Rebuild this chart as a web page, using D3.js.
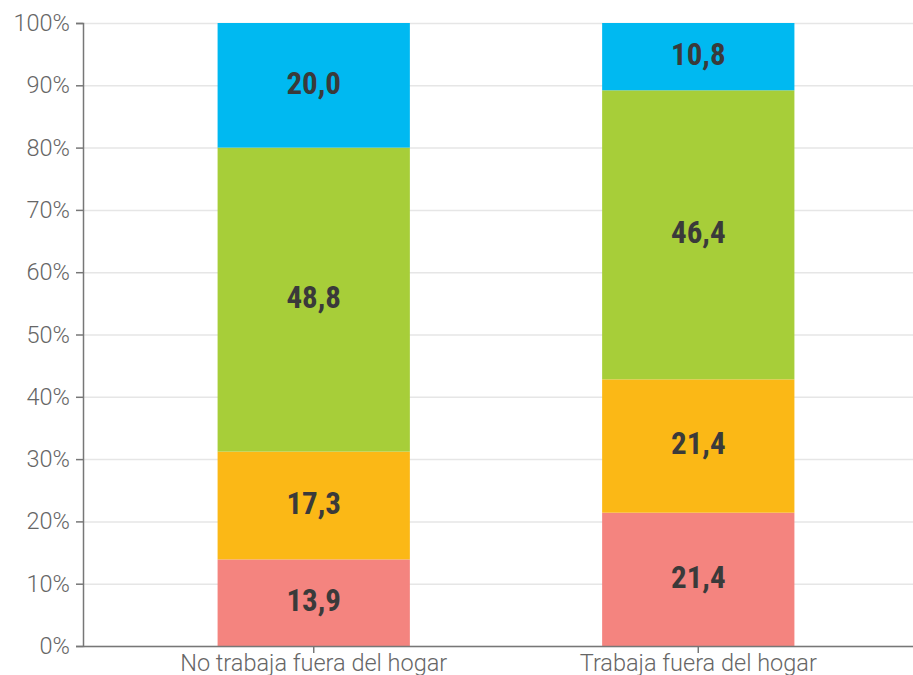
<!DOCTYPE html>
<html>
<head>
<meta charset="utf-8">
<script src="https://cdn.jsdelivr.net/npm/d3@7"></script>
<style>
  body { margin: 0; background: #fff; }
  svg { display: block; }
</style>
</head>
<body>
<svg id="chart" width="913" height="675"></svg>
<script>
// categories and series (percentages)
const categories = ['No trabaja fuera del hogar', 'Trabaja fuera del hogar'];
const seriesNames = ['s1', 's2', 's3', 's4'];
const seriesColors = ['#f4847f', '#fbb816', '#a7ce39', '#00b9f1'];
const s1 = [13.9, 21.4];
const s2 = [17.3, 21.4];
const s3 = [48.8, 46.4];
const s4 = [20.0, 10.8];
const yTicks = [0, 10, 20, 30, 40, 50, 60, 70, 80, 90, 100];

const svg = d3.select('#chart');
const margin = { top: 23, right: 0, bottom: 29, left: 83 };
const width = 913;
const height = 675;

const rows = categories.map((c, i) => ({
    cat: c, s1: s1[i], s2: s2[i], s3: s3[i], s4: s4[i]
}));

const stack = d3.stack().keys(seriesNames);
const layers = stack(rows);

const x = d3.scaleBand()
    .domain(categories)
    .range([margin.left, 929])
    .paddingInner(0.5)
    .paddingOuter(0.35);

const y = d3.scaleLinear()
    .domain([0, 100])
    .range([height - margin.bottom, margin.top]);

// gridlines
svg.append('g')
    .selectAll('line')
    .data(yTicks)
    .join('line')
    .attr('x1', margin.left)
    .attr('x2', width)
    .attr('y1', d => y(d) + 0.5)
    .attr('y2', d => y(d) + 0.5)
    .attr('stroke', '#e6e6e6')
    .attr('stroke-width', 1.5);

// bars
const layerG = svg.append('g')
    .selectAll('g')
    .data(layers)
    .join('g')
    .attr('fill', (d, i) => seriesColors[i]);

layerG.selectAll('rect')
    .data(d => d)
    .join('rect')
    .attr('x', d => x(d.data.cat))
    .attr('width', x.bandwidth())
    .attr('y', d => y(d[1]))
    .attr('height', d => y(d[0]) - y(d[1]));

// value labels
layerG.selectAll('text')
    .data(d => d)
    .join('text')
    .attr('x', d => x(d.data.cat) + x.bandwidth() / 2)
    .attr('y', d => (y(d[0]) + y(d[1])) / 2)
    .attr('dy', '0.27em')
    .attr('text-anchor', 'middle')
    .attr('fill', '#3a3a3a')
    .style('font-family', '"Roboto Condensed", "DejaVu Sans Condensed", Roboto, sans-serif')
    .style('font-weight', 'bold')
    .style('font-size', '31px')
    .text(d => (d[1] - d[0]).toFixed(1).replace('.', ','));

// y axis
const yAxis = d3.axisLeft(y)
    .tickValues(yTicks)
    .tickSize(7)
    .tickPadding(6)
    .tickFormat(d => d + '%');

const yG = svg.append('g')
    .attr('transform', `translate(${margin.left},0)`)
    .call(yAxis);
yG.select('.domain').attr('stroke', '#777').attr('stroke-width', 1.5);
yG.selectAll('.tick line').attr('stroke', '#777').attr('stroke-width', 1.5);
yG.selectAll('.tick text')
    .attr('fill', '#666')
    .style('font-family', 'Roboto, sans-serif')
    .style('font-weight', 300)
    .style('font-size', '23.5px');

// x axis
const xAxis = d3.axisBottom(x)
    .tickSize(7)
    .tickPadding(1)
    .tickSizeOuter(0);

const xG = svg.append('g')
    .attr('transform', `translate(0,${height - margin.bottom})`)
    .call(xAxis);
xG.select('.domain').attr('stroke', '#777').attr('stroke-width', 1.5);
xG.selectAll('.tick line').attr('stroke', '#777').attr('stroke-width', 1.5);
xG.selectAll('.tick text')
    .attr('fill', '#666')
    .style('font-family', 'Roboto, sans-serif')
    .style('font-weight', 300)
    .style('font-size', '23.5px');
</script>
</body>
</html>
